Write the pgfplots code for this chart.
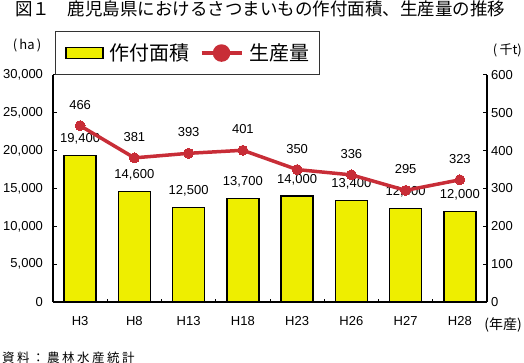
\documentclass[border=0pt]{standalone}
\usepackage{fontspec}
\setmainfont{Liberation Sans}
\newfontfamily\jp{Noto Sans CJK JP}
\newfontfamily\jpsp[LetterSpace=20]{Noto Sans CJK JP}
\usepackage{pgfplots}
\pgfplotsset{compat=1.18}
\definecolor{barY}{RGB}{238,238,0}
\definecolor{lineR}{RGB}{200,45,55}
\begin{document}
\begin{tikzpicture}
\path[use as bounding box] (-53pt,-61pt) rectangle (471pt,302pt);
\begin{axis}[
  at={(0,0)}, anchor=south west,
  scale only axis, width=434pt, height=227pt,
  xmin=-0.5, xmax=7.5, ymin=0, ymax=30000,
  axis lines*=left,
  axis line style={line width=1.4pt, black},
  tick align=inside,
  tick style={line width=1pt, black},
  xtick={0,...,7},
  xticklabels={H3,H8,H13,H18,H23,H26,H27,H28},
  major x tick style={draw=none},
  minor xtick={0.5,1.5,...,6.5},
  minor tick length=3pt,
  ytick={0,5000,...,30000},
  major tick length=4pt,
  scaled y ticks=false,
  /pgf/number format/1000 sep={,},
  /pgf/number format/assume math mode=true,
  tick label style={font=\fontsize{13}{13}\selectfont},
  yticklabel style={xshift=-6.5pt},
  xticklabel style={yshift=-11pt},
  clip=false,
]
\addplot[ybar, bar width=32pt, fill=barY, draw=black, line width=1.3pt,
  nodes near coords,
  nodes near coords style={font=\fontsize{13}{13}\selectfont, text=black, yshift=7pt}]
  coordinates {(0,19400) (1,14600) (2,12500) (3,13700) (4,14000) (5,13400) (6,12400) (7,12000)};
\end{axis}
\begin{axis}[
  at={(0,0)}, anchor=south west,
  scale only axis, width=434pt, height=227pt,
  xmin=-0.5, xmax=7.5, ymin=0, ymax=600,
  axis y line*=right, axis x line=none,
  axis line style={line width=1.8pt, black},
  tick align=inside,
  tick style={line width=1pt, black},
  ytick={0,100,...,600},
  major tick length=4pt,
  /pgf/number format/assume math mode=true,
  tick label style={font=\fontsize{13}{13}\selectfont},
  yticklabel style={xshift=0.7pt},
  clip=false,
  legend columns=2,
  legend style={at={(0.0046,1.1938)}, anchor=north west,
    draw=black!80, line width=0.8pt,
    font=\jp\fontsize{20}{20}\selectfont,
    inner xsep=10pt, inner ysep=12.5pt,
    nodes={inner sep=0pt},
    /tikz/every odd column/.style={column sep=6pt},
    /tikz/every even column/.style={column sep=10pt}},
]
\addlegendimage{legend image code/.code={\draw[fill=barY,draw=black,line width=1.4pt] (0pt,-5.5pt) rectangle (37pt,5.5pt);}}
\addlegendentry{作付面積}
\addplot[lineR, line width=3.5pt, mark=*, mark size=5pt,
  mark options={fill=lineR, draw=lineR, line width=0pt},
  nodes near coords,
  nodes near coords style={font=\fontsize{13}{13}\selectfont, text=black, yshift=13pt},
  legend image code/.code={\draw[lineR, line width=3.5pt] (0pt,0pt) -- (40pt,0pt); \fill[lineR] (20pt,0pt) circle (7pt);}]
  coordinates {(0,466) (1,381) (2,393) (3,401) (4,350) (5,336) (6,295) (7,323)};
\addlegendentry{生産量}
\end{axis}
\node[anchor=base west, inner sep=0pt, font=\jp\fontsize{17.5}{17.5}\selectfont] at (-38pt,286pt) {図１　鹿児島県におけるさつまいもの作付面積、生産量の推移};
\node[inner sep=0pt, font=\jp\fontsize{13}{13}\selectfont] at (-26pt,257pt) {(\,ha\,)};
\node[anchor=east, inner sep=0pt, font=\jp\fontsize{13}{13}\selectfont] at (469pt,252pt) {(\,千t)};
\node[anchor=east, inner sep=0pt, font=\jp\fontsize{14}{14}\selectfont] at (469pt,-23pt) {(年産)};
\node[anchor=west, inner sep=0pt, font=\jpsp\fontsize{12.5}{12.5}\selectfont] at (-51pt,-56pt) {資料：農林水産統計};
\end{tikzpicture}
\end{document}
